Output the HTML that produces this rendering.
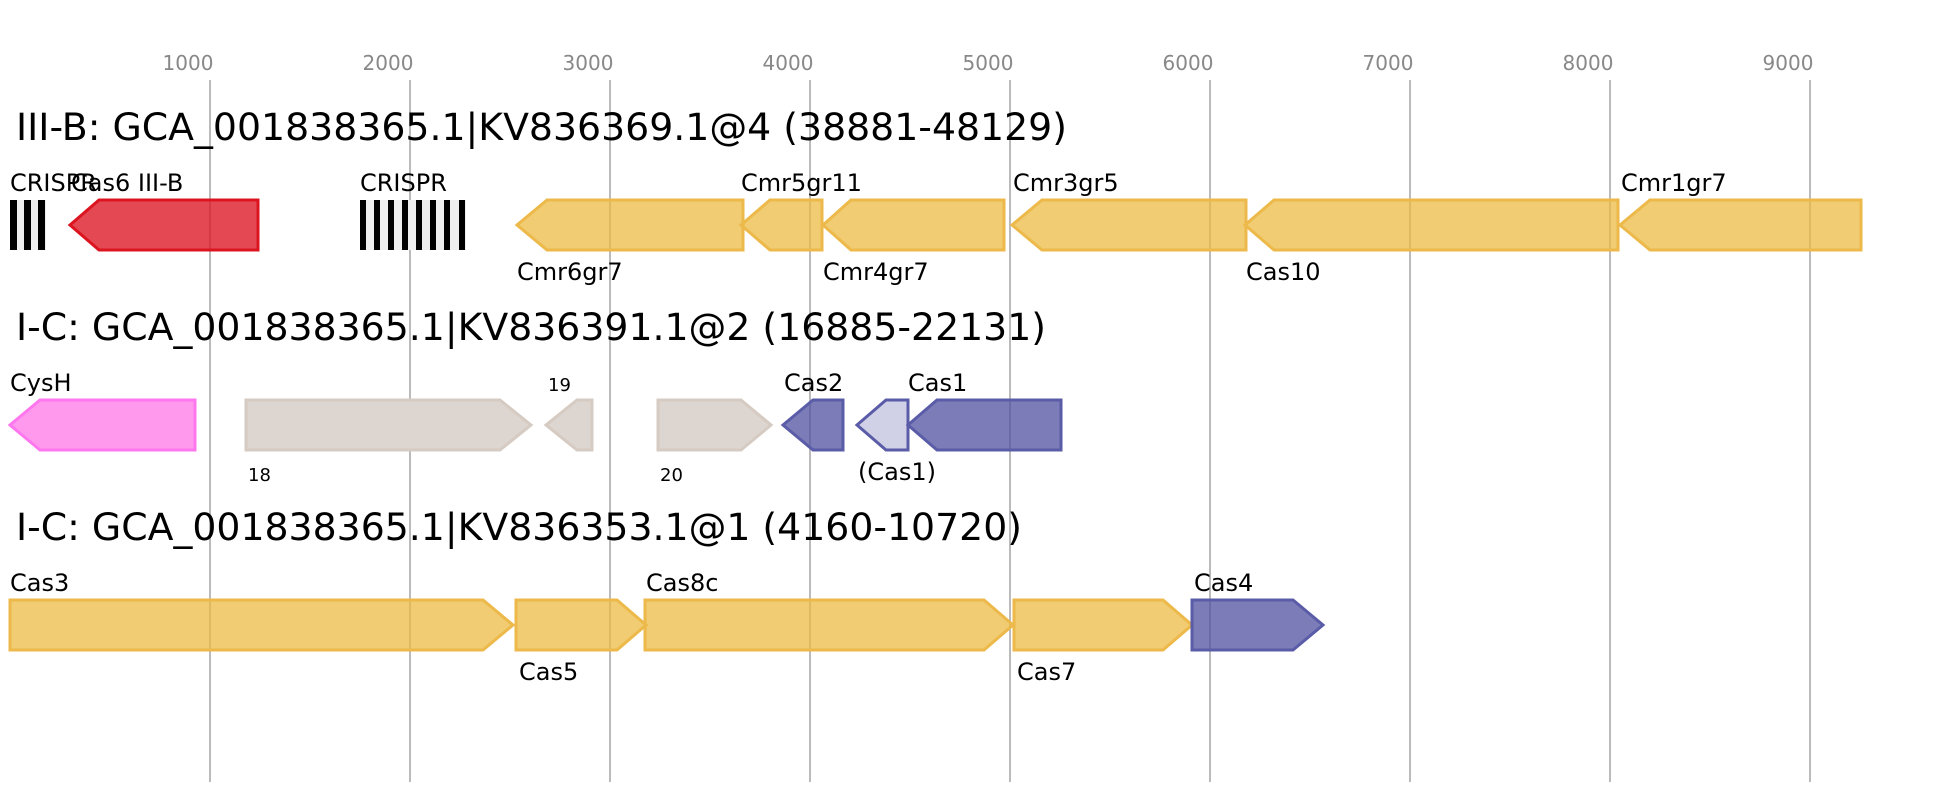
<!DOCTYPE html>
<html><head><meta charset="utf-8"><style>
html,body{margin:0;padding:0;background:#fff;}
svg{display:block;}
text{font-family:"DejaVu Sans","Liberation Sans",sans-serif;}
.ax{fill:#888;font-size:20px;text-anchor:middle;}
.t{font-size:37px;fill:#000;}
.l{font-size:24px;fill:#000;}
.s{font-size:18px;fill:#000;}
.y{fill:rgba(236,185,60,0.72);stroke:#ecb94a;stroke-width:3;}
.r{fill:rgba(220,20,35,0.78);stroke:#dc1420;stroke-width:3;}
.g{fill:#ddd5cf;stroke:#d6cbc2;stroke-width:3;}
.p{fill:#ff99ee;stroke:#ff77ee;stroke-width:3;}
.b{fill:rgba(80,82,160,0.75);stroke:#5a5ca8;stroke-width:3;}
.lb{fill:#d0d0e6;stroke:#5a5ca8;stroke-width:3;}
</style></head><body>
<svg width="1950" height="800" viewBox="0 0 1950 800" xmlns="http://www.w3.org/2000/svg">
<g stroke="#bbb" stroke-width="2">
<line x1="210" y1="80" x2="210" y2="782"/><line x1="410" y1="80" x2="410" y2="782"/>
<line x1="610" y1="80" x2="610" y2="782"/><line x1="810" y1="80" x2="810" y2="782"/>
<line x1="1010" y1="80" x2="1010" y2="782"/><line x1="1210" y1="80" x2="1210" y2="782"/>
<line x1="1410" y1="80" x2="1410" y2="782"/><line x1="1610" y1="80" x2="1610" y2="782"/>
<line x1="1810" y1="80" x2="1810" y2="782"/>
</g>
<g class="ax">
<text x="188" y="70">1000</text><text x="388" y="70">2000</text><text x="588" y="70">3000</text>
<text x="788" y="70">4000</text><text x="988" y="70">5000</text><text x="1188" y="70">6000</text>
<text x="1388" y="70">7000</text><text x="1588" y="70">8000</text><text x="1788" y="70">9000</text>
</g>
<text class="t" x="16" y="140" textLength="1051" lengthAdjust="spacingAndGlyphs">III-B: GCA_001838365.1|KV836369.1@4 (38881-48129)</text>
<text class="t" x="16" y="340" textLength="1030" lengthAdjust="spacingAndGlyphs">I-C: GCA_001838365.1|KV836391.1@2 (16885-22131)</text>
<text class="t" x="16" y="540" textLength="1006" lengthAdjust="spacingAndGlyphs">I-C: GCA_001838365.1|KV836353.1@1 (4160-10720)</text>

<!-- row1 -->
<rect x="10" y="200" width="36" height="50" fill="#eee"/>
<g fill="#000"><rect x="10" y="200" width="7" height="50"/><rect x="24" y="200" width="7" height="50"/><rect x="38" y="200" width="7" height="50"/></g>
<rect x="360" y="200" width="106" height="50" fill="#eee"/>
<g fill="#000">
<rect x="360" y="200" width="6" height="50"/><rect x="374" y="200" width="6" height="50"/><rect x="388" y="200" width="6" height="50"/><rect x="402" y="200" width="6" height="50"/>
<rect x="416" y="200" width="6" height="50"/><rect x="430" y="200" width="6" height="50"/><rect x="444" y="200" width="6" height="50"/><rect x="459" y="200" width="6" height="50"/>
</g>
<polygon class="r" points="70,225 99,200 258,200 258,250 99,250"/>
<polygon class="y" points="517,225 547,200 743,200 743,250 547,250"/>
<polygon class="y" points="741,225 770,200 822,200 822,250 770,250"/>
<polygon class="y" points="823,225 851,200 1004,200 1004,250 851,250"/>
<polygon class="y" points="1012,225 1042,200 1246,200 1246,250 1042,250"/>
<polygon class="y" points="1245,225 1274,200 1618,200 1618,250 1274,250"/>
<polygon class="y" points="1620,225 1650,200 1861,200 1861,250 1650,250"/>
<text class="l" x="10" y="191">CRISPR</text>
<text class="l" x="71" y="191">Cas6 III-B</text>
<text class="l" x="360" y="191">CRISPR</text>
<text class="l" x="517" y="280">Cmr6gr7</text>
<text class="l" x="741" y="191">Cmr5gr11</text>
<text class="l" x="823" y="280">Cmr4gr7</text>
<text class="l" x="1013" y="191">Cmr3gr5</text>
<text class="l" x="1246" y="280">Cas10</text>
<text class="l" x="1621" y="191">Cmr1gr7</text>

<!-- row2 -->
<polygon class="p" points="10,425 40,400 195,400 195,450 40,450"/>
<polygon class="g" points="246,400 500,400 531,425 500,450 246,450"/>
<polygon class="g" points="546,425 577,400 592,400 592,450 577,450"/>
<polygon class="g" points="658,400 741,400 771,425 741,450 658,450"/>
<polygon class="b" points="783,425 813,400 843,400 843,450 813,450"/>
<polygon class="lb" points="857,425 886,400 908,400 908,450 886,450"/>
<polygon class="b" points="908,425 937,400 1061,400 1061,450 937,450"/>
<text class="l" x="10" y="391">CysH</text>
<text class="s" x="248" y="481">18</text>
<text class="s" x="548" y="391">19</text>
<text class="s" x="660" y="481">20</text>
<text class="l" x="784" y="391">Cas2</text>
<text class="l" x="858" y="480">(Cas1)</text>
<text class="l" x="908" y="391">Cas1</text>

<!-- row3 -->
<polygon class="y" points="10,600 483,600 513,625 483,650 10,650"/>
<polygon class="y" points="516,600 617,600 646,625 617,650 516,650"/>
<polygon class="y" points="645,600 984,600 1013,625 984,650 645,650"/>
<polygon class="y" points="1014,600 1163,600 1192,625 1163,650 1014,650"/>
<polygon class="b" points="1192,600 1293,600 1323,625 1293,650 1192,650"/>
<text class="l" x="10" y="591">Cas3</text>
<text class="l" x="519" y="680">Cas5</text>
<text class="l" x="646" y="591">Cas8c</text>
<text class="l" x="1017" y="680">Cas7</text>
<text class="l" x="1194" y="591">Cas4</text>
</svg>
</body></html>
